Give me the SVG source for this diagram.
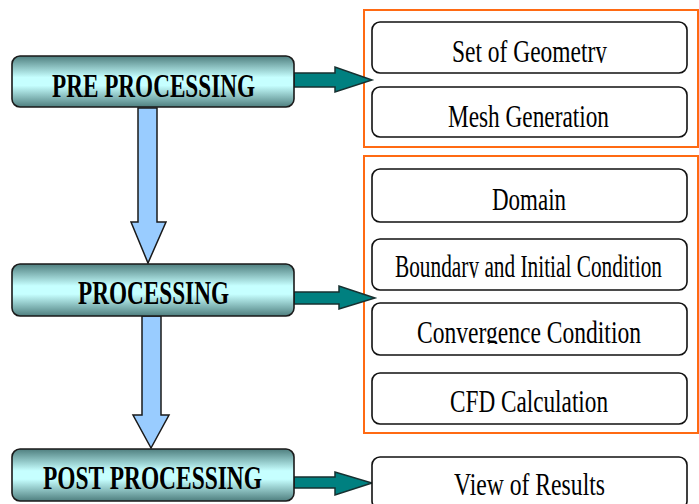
<svg xmlns="http://www.w3.org/2000/svg" width="699" height="504" viewBox="0 0 699 504">
<style>
.stage{stroke:#1a1a1a;stroke-width:1.6}
.stxt{font-family:"Liberation Serif","Times New Roman",serif;font-weight:bold;font-size:33px;fill:#000;text-anchor:middle}
.item{fill:#fff;stroke:#111;stroke-width:1.6}
.itxt{font-family:"Liberation Serif","Times New Roman",serif;font-size:31px;fill:#000;text-anchor:middle}
.group{fill:none;stroke:#ff6a13;stroke-width:2}
.teal{fill:#008080;stroke:#173030;stroke-width:1.5;stroke-linejoin:miter}
.blue{fill:#99ccff;stroke:#1a1a1a;stroke-width:1.5}
</style>
<defs>
<linearGradient id="g" x1="0" y1="0" x2="0" y2="1">
<stop offset="0" stop-color="#4f7f7f"/>
<stop offset="0.42" stop-color="#c6ffff"/>
<stop offset="0.58" stop-color="#c6ffff"/>
<stop offset="1" stop-color="#4f7f7f"/>
</linearGradient>
<clipPath id="c1"><rect x="372" y="22" width="315" height="41"/></clipPath>
<clipPath id="c2"><rect x="372" y="239" width="315" height="39"/></clipPath>
<clipPath id="c3"><rect x="372" y="303" width="315" height="41"/></clipPath>
</defs>
<g id="groups">
<rect class="group" x="364" y="10" width="334" height="137"/>
<rect class="group" x="364" y="156" width="334" height="277"/>
</g>
<g id="connectors">
<polygon class="blue" points="138,108 157,108 157,222 166,222 148,263 131,222 138,222"/>
<polygon class="blue" points="142,316 161,316 161,415 169,415 151,448 133,415 142,415"/>
<polygon class="teal" points="294,73 335,73 335,67 372,80 335,92 335,87 294,87"/>
<polygon class="teal" points="294,292 339,292 339,286 375,298 339,309 339,304 294,304"/>
<polygon class="teal" points="294,477 335,477 335,472 372,483 335,495 335,488 294,488"/>
</g>
<g id="pre">
<rect class="stage" x="12" y="56" width="282" height="51" rx="8" fill="url(#g)"/>
<text class="stxt" x="153.5" y="97" textLength="203" lengthAdjust="spacingAndGlyphs">PRE PROCESSING</text>
</g>
<g id="proc">
<rect class="stage" x="12" y="264" width="282" height="52" rx="8" fill="url(#g)"/>
<text class="stxt" x="153.5" y="304" textLength="151" lengthAdjust="spacingAndGlyphs">PROCESSING</text>
</g>
<g id="post">
<rect class="stage" x="12" y="449" width="282" height="52" rx="8" fill="url(#g)"/>
<text class="stxt" x="152.5" y="489" textLength="219" lengthAdjust="spacingAndGlyphs">POST PROCESSING</text>
</g>
<g id="geometry">
<rect class="item" x="372" y="22" width="315" height="51" rx="8"/>
<text class="itxt" x="529.5" y="62" textLength="155" lengthAdjust="spacingAndGlyphs" clip-path="url(#c1)">Set of Geometry</text>
</g>
<g id="mesh">
<rect class="item" x="372" y="87" width="315" height="50" rx="8"/>
<text class="itxt" x="528.5" y="127" textLength="161" lengthAdjust="spacingAndGlyphs">Mesh Generation</text>
</g>
<g id="domain">
<rect class="item" x="372" y="169" width="315" height="53" rx="8"/>
<text class="itxt" x="529" y="210" textLength="74" lengthAdjust="spacingAndGlyphs">Domain</text>
</g>
<g id="boundary">
<rect class="item" x="372" y="239" width="315" height="51" rx="8"/>
<text class="itxt" x="528.5" y="277" textLength="267" lengthAdjust="spacingAndGlyphs" clip-path="url(#c2)">Boundary and Initial Condition</text>
</g>
<g id="convergence">
<rect class="item" x="372" y="303" width="315" height="52" rx="8"/>
<text class="itxt" x="529" y="343" textLength="224" lengthAdjust="spacingAndGlyphs" clip-path="url(#c3)">Convergence Condition</text>
</g>
<g id="cfd">
<rect class="item" x="372" y="373" width="315" height="51" rx="8"/>
<text class="itxt" x="529" y="412" textLength="158" lengthAdjust="spacingAndGlyphs">CFD Calculation</text>
</g>
<g id="results">
<rect class="item" x="372" y="457" width="315" height="52" rx="8"/>
<text class="itxt" x="529.5" y="495" textLength="151" lengthAdjust="spacingAndGlyphs">View of Results</text>
</g>
</svg>
